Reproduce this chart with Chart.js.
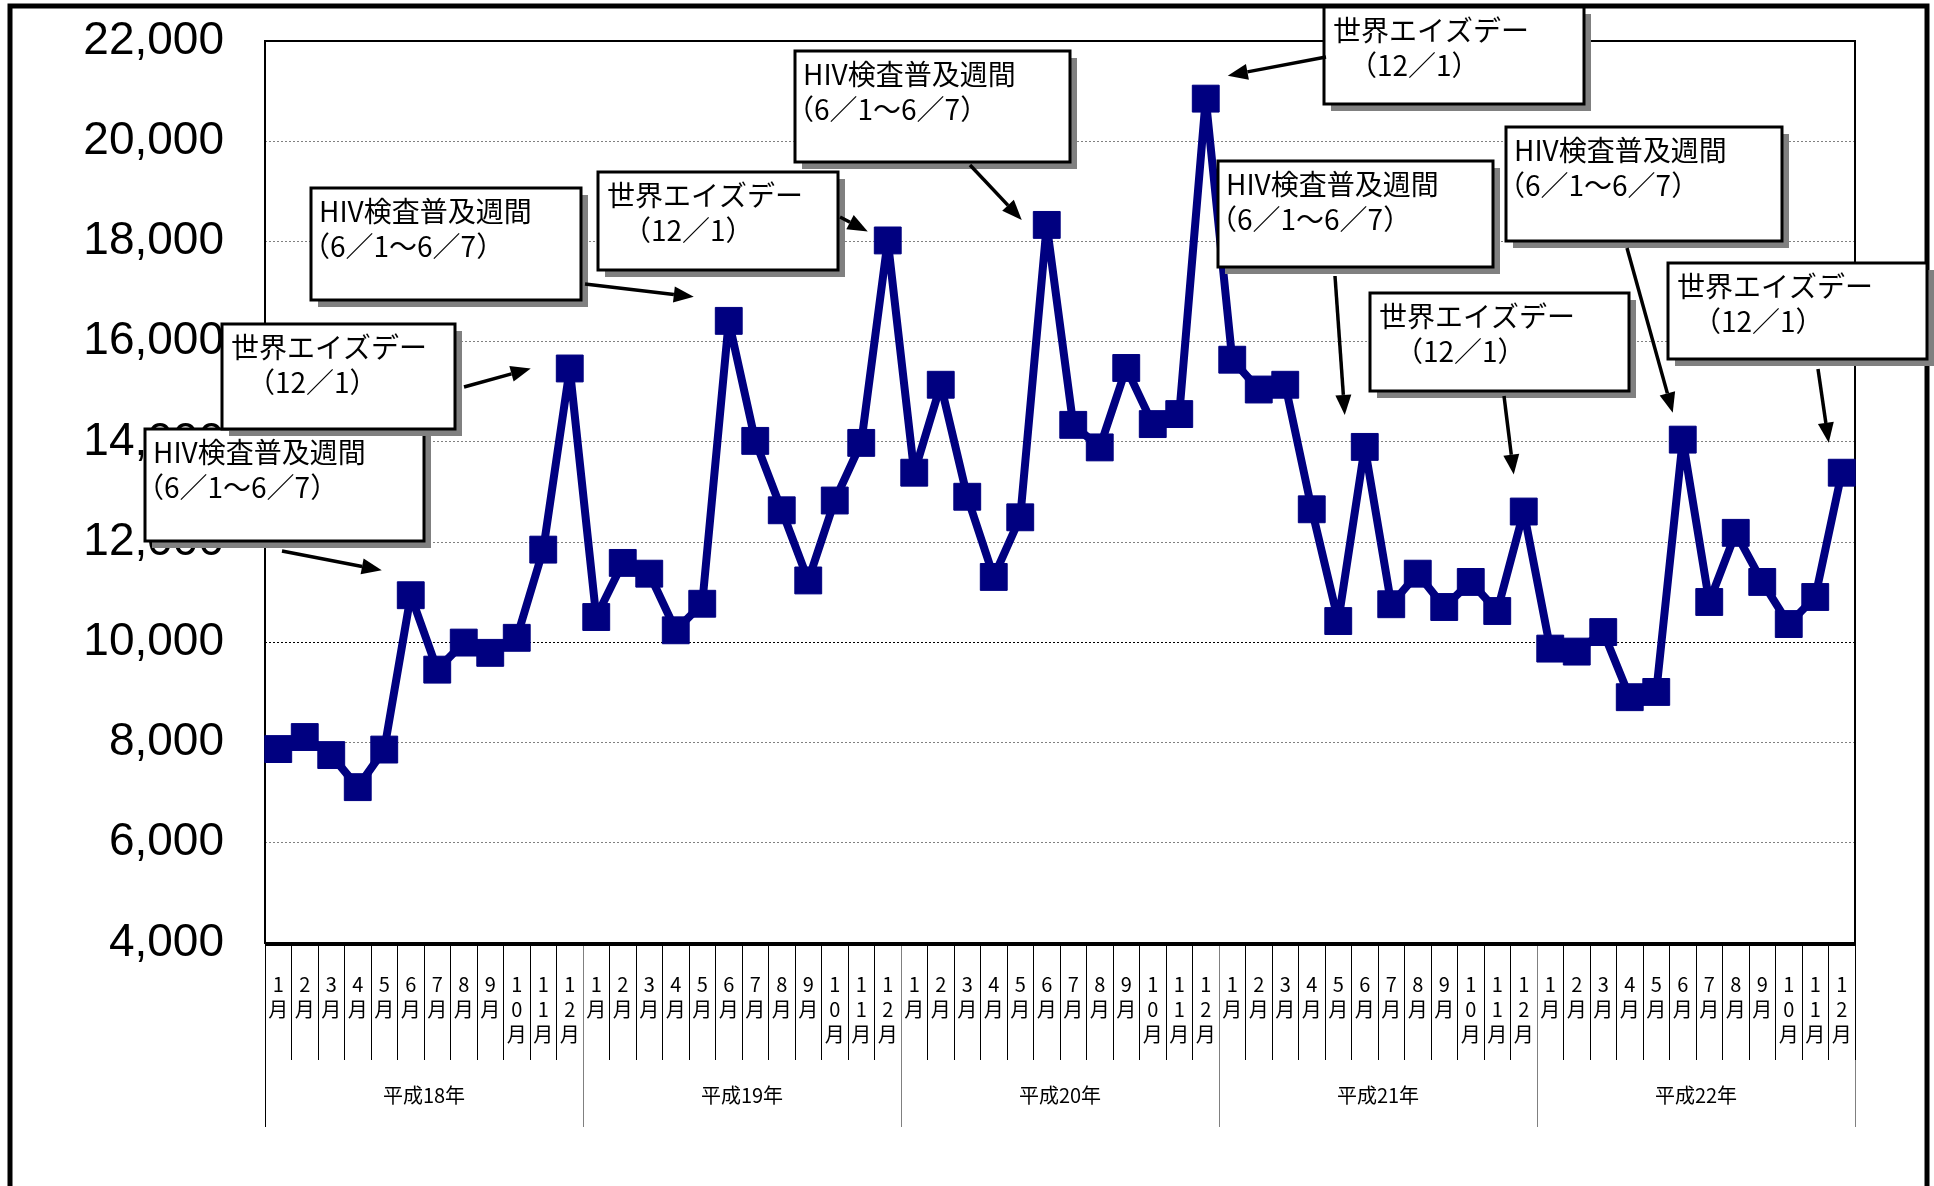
<!DOCTYPE html>
<html lang="ja">
<head>
<meta charset="utf-8">
<title>HIV検査件数の推移</title>
<script src="https://cdn.jsdelivr.net/npm/chart.js@4.4.1/dist/chart.umd.min.js"></script>
<style>
  html, body { margin: 0; padding: 0; background: #fff; }
  canvas { display: block; }
</style>
</head>
<body>
<canvas id="hivChart" width="1934" height="1186"></canvas>
<script>
// 月別の件数 (平成18年1月 〜 平成22年12月)
var years = ["平成18年", "平成19年", "平成20年", "平成21年", "平成22年"]
var months = [["1","月"],["2","月"],["3","月"],["4","月"],["5","月"],["6","月"],
              ["7","月"],["8","月"],["9","月"],["1","0","月"],["1","1","月"],["1","2","月"]]

var h18 = [7870, 8110, 7750, 7110, 7860, 10940, 9455, 9995, 9790, 10090, 11850, 15465]
var h19 = [10505, 11585, 11370, 10240, 10770, 16415, 14020, 12635, 11235, 12830, 13980, 18020]
var h20 = [13385, 15140, 12905, 11305, 12495, 18330, 14340, 13890, 15475, 14355, 14555, 20850]
var h21 = [15640, 15045, 15140, 12655, 10425, 13900, 10760, 11370, 10705, 11205, 10625, 12610]
var h22 = [9875, 9815, 10205, 8905, 9010, 14045, 10805, 12185, 11205, 10365, 10905, 13385]

var yTicks = [4000, 6000, 8000, 10000, 12000, 14000, 16000, 18000, 20000, 22000]

var counts = h18.concat(h19, h20, h21, h22)
var monthLabels = []
years.forEach(function(){ months.forEach(function(m){ monthLabels.push(m) }) })

var hivText = ["HIV検査普及週間", "（6／1～6／7）"]
var aidsText = ["世界エイズデー", "（12／1）"]

// annotation boxes: box [x, y, w, h], arrow start, target point index, tip offset from that point
var notes = [
    {text: hivText,  box: [145, 429, 279, 112], from: [282, 551],  point: 5,  tip: [-29, -25]},
    {text: aidsText, box: [222, 324, 233, 105], from: [464, 387],  point: 11, tip: [-39, 0]},
    {text: hivText,  box: [311, 188, 270, 112], from: [585, 284],  point: 17, tip: [-35, -24]},
    {text: aidsText, box: [598, 172, 240, 98],  from: [840, 217],  point: 23, tip: [-20, -9]},
    {text: hivText,  box: [795, 51, 275, 111],  from: [970, 165],  point: 29, tip: [-25, -5]},
    {text: aidsText, box: [1324, 7, 260, 97],   from: [1326, 57],  point: 35, tip: [22, -23]},
    {text: hivText,  box: [1218, 161, 275, 106], from: [1335, 276], point: 41, tip: [-20, -32]},
    {text: aidsText, box: [1370, 293, 259, 98], from: [1504, 396], point: 47, tip: [-10, -37]},
    {text: hivText,  box: [1506, 127, 276, 114], from: [1627, 248], point: 53, tip: [-10, -27]},
    {text: aidsText, box: [1668, 263, 259, 96], from: [1818, 369], point: 59, tip: [-13, -30]}
]

function drawArrow(ctx, x1, y1, x2, y2) {
    var a = Math.atan2(y2 - y1, x2 - x1)
    var L = 20, W = 8
    var bx = x2 - L * Math.cos(a), by = y2 - L * Math.sin(a)
    ctx.beginPath()
    ctx.moveTo(x1, y1)
    ctx.lineTo(bx, by)
    ctx.stroke()
    ctx.beginPath()
    ctx.moveTo(x2, y2)
    ctx.lineTo(bx + W * Math.sin(a), by - W * Math.cos(a))
    ctx.lineTo(bx - W * Math.sin(a), by + W * Math.cos(a))
    ctx.closePath()
    ctx.fill()
}

// draw text so that its ink starts at x
function inkText(ctx, str, x, y) {
    var m = ctx.measureText(str)
    ctx.fillText(str, x + m.actualBoundingBoxLeft, y)
}

var framePlugin = {
    id: 'frames',
    beforeDraw: function(chart) {
        var ctx = chart.ctx
        ctx.save()
        ctx.fillStyle = '#fff'
        ctx.fillRect(0, 0, chart.width, chart.height)
        ctx.strokeStyle = '#000'
        ctx.lineWidth = 5
        ctx.strokeRect(10, 6, 1917, 1200)
        ctx.restore()
    },
    beforeDatasetsDraw: function(chart) {
        var a = chart.chartArea, ctx = chart.ctx
        ctx.save()
        ctx.strokeStyle = '#000'
        ctx.lineWidth = 2
        ctx.strokeRect(a.left, a.top, a.right - a.left, a.bottom - a.top)
        ctx.lineWidth = 4
        ctx.beginPath()
        ctx.moveTo(a.left, a.bottom + 1)
        ctx.lineTo(a.right, a.bottom + 1)
        ctx.stroke()
        ctx.restore()
    },
    afterDraw: function(chart) {
        var ctx = chart.ctx
        var xs = chart.scales.x, ys = chart.scales.y
        ctx.save()
        notes.forEach(function(n) {
            var b = n.box
            ctx.fillStyle = '#808080'
            ctx.fillRect(b[0] + 7, b[1] + 7, b[2], b[3])
            ctx.fillStyle = '#fff'
            ctx.fillRect(b[0], b[1], b[2], b[3])
            ctx.strokeStyle = '#000'
            ctx.lineWidth = 3
            ctx.strokeRect(b[0], b[1], b[2], b[3])

            ctx.fillStyle = '#000'
            ctx.font = "28px 'Noto Sans CJK JP'"
            ctx.textBaseline = 'top'
            ctx.textAlign = 'left'
            var indent = n.text === aidsText ? 44 : 10
            inkText(ctx, n.text[0], b[0] + 10, b[1] + 9)
            inkText(ctx, n.text[1], b[0] + indent, b[1] + 44)

            var px = xs.getPixelForValue(n.point)
            var py = ys.getPixelForValue(counts[n.point])
            ctx.lineWidth = 3.5
            drawArrow(ctx, n.from[0], n.from[1], px + n.tip[0], py + n.tip[1])
        })
        ctx.restore()
    }
}

Chart.defaults.font.family = "'Noto Sans CJK JP', sans-serif"
Chart.defaults.color = '#000'

var canvas = document.getElementById("hivChart")
var hivChart = new Chart(canvas, {
    type: 'line',
    data: {
        labels: monthLabels,
        datasets: [{
            data: counts,
            borderColor: '#000080',
            backgroundColor: '#000080',
            borderWidth: 8,
            borderJoinStyle: 'round',
            tension: 0,
            pointStyle: 'rect',
            pointRadius: 19,
            pointBackgroundColor: '#000080',
            pointBorderColor: '#000080',
            pointBorderWidth: 1,
            xAxisID: 'x',
            yAxisID: 'y'
        }]
    },
    options: {
        responsive: false,
        animation: false,
        layout: { padding: { left: 0, right: 79, top: 41, bottom: 59 } },
        plugins: {
            legend: { display: false },
            tooltip: { enabled: false }
        },
        scales: {
            y: {
                min: 4000,
                max: 22000,
                afterBuildTicks: function(scale) {
                    scale.ticks = yTicks.map(function(v) { return { value: v } })
                },
                afterFit: function(scale) { scale.width = 265 },
                border: { display: false, dash: [2, 2] },
                grid: {
                    drawTicks: true,
                    tickLength: 41,
                    tickColor: 'rgba(0,0,0,0)',
                    lineWidth: 1,
                    color: function(c) {
                        return c.tick && c.tick.value === 10000 ? '#000' : '#808080'
                    }
                },
                ticks: {
                    padding: 0,
                    font: { family: "'Liberation Sans', Arial, sans-serif", size: 46 },
                    callback: function(v) { return v.toLocaleString('en-US') }
                }
            },
            x: {
                type: 'category',
                offset: true,
                weight: 0,
                afterFit: function(scale) { scale.height = 117 },
                border: { display: false },
                grid: {
                    offset: true,
                    drawOnChartArea: false,
                    tickLength: 117,
                    lineWidth: 1,
                    color: function(c) {
                        return (c.index % 12 === 0 && c.index !== 0 && c.index !== 60) ? '#808080' : '#000'
                    }
                },
                ticks: {
                    autoSkip: false,
                    maxRotation: 0,
                    minRotation: 0,
                    padding: -88,
                    font: { size: 20, lineHeight: 1.25 }
                }
            },
            x2: {
                type: 'category',
                labels: years,
                offset: true,
                position: 'bottom',
                weight: 1,
                afterFit: function(scale) { scale.height = 67 },
                border: { display: false },
                grid: {
                    offset: true,
                    drawOnChartArea: false,
                    tickLength: 67,
                    lineWidth: 1,
                    color: function(c) {
                        return (c.index === 0 || c.index === 5) ? '#000' : '#808080'
                    }
                },
                ticks: {
                    padding: -44,
                    font: { size: 20, lineHeight: 1.2 }
                }
            }
        }
    },
    plugins: [framePlugin]
})
</script>
</body>
</html>
